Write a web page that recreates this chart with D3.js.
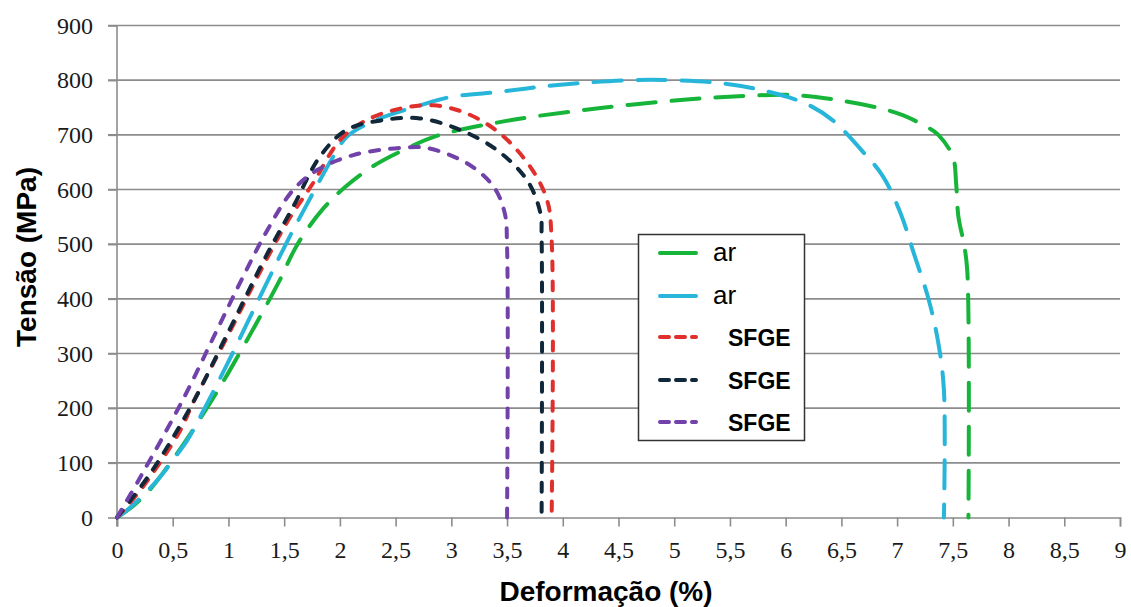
<!DOCTYPE html>
<html>
<head>
<meta charset="utf-8">
<script src="https://cdn.jsdelivr.net/npm/d3@7"></script>
<style>
  body { margin: 0; background: #fff; }
  svg { display: block; }
  .tick text { font-family: "Liberation Serif", "Times New Roman", serif; font-size: 24px; fill: #1a1a1a; }
</style>
</head>
<body>
<div id="chart"></div>
<script>
// strain (%) and stress (MPa)
const greenX = [0, 0.15, 0.3, 0.45, 0.6, 0.8, 1.0, 1.25, 1.45, 1.62, 1.85, 2.05, 2.3, 2.6, 2.9, 3.54, 4.34, 5.14, 5.62, 6.04, 6.42, 6.84, 7.05, 7.27, 7.37, 7.5, 7.53, 7.55, 7.6, 7.63, 7.64];
const greenY = [0, 22, 52, 92, 135, 198, 265, 355, 430, 500, 565, 605, 643, 675, 700, 727, 749, 765, 771, 773, 765, 749, 736, 714, 700, 660, 610, 550, 500, 450, 0];

const cyanX = [0, 0.1, 0.28, 0.41, 0.5, 0.63, 0.8, 1.0, 1.25, 1.52, 1.71, 1.94, 2.06, 2.3, 2.72, 2.99, 3.45, 3.8, 4.18, 4.6, 4.98, 5.4, 5.78, 6.17, 6.42, 6.68, 6.87, 7.03, 7.15, 7.28, 7.37, 7.42, 7.42];
const cyanY = [0, 15, 50, 80, 105, 141, 205, 285, 390, 502, 575, 660, 696, 725, 754, 769, 779, 788, 795, 800, 800, 795, 782, 758, 727, 672, 625, 557, 483, 401, 319, 233, 0];

const redX = [0, 0.15, 0.3, 0.57, 0.68, 1.0, 1.26, 1.52, 1.76, 2.0, 2.24, 2.54, 2.84, 3.14, 3.44, 3.71, 3.86, 3.9, 3.9];
const redY = [0, 35, 75, 160, 209, 335, 440, 538, 612, 690, 727, 748, 754, 739, 702, 641, 580, 508, 0];

const navyX = [0, 0.3, 0.66, 1.0, 1.35, 1.58, 1.82, 2.06, 2.39, 2.72, 3.08, 3.41, 3.68, 3.8, 3.81, 3.81];
const navyY = [0, 81, 202, 340, 483, 568, 660, 709, 727, 730, 709, 672, 617, 556, 513, 0];

const purpleX = [0, 0.21, 0.59, 0.9, 1.13, 1.35, 1.58, 1.8, 2.12, 2.54, 2.78, 3.14, 3.38, 3.48, 3.5, 3.5];
const purpleY = [0, 74, 215, 344, 440, 526, 599, 636, 663, 676, 676, 648, 605, 556, 495, 0];

const seriesNames = ['ar', 'ar', 'SFGE', 'SFGE', 'SFGE'];
const xTicks = d3.range(0, 9.01, 0.5);
const yTicks = d3.range(0, 901, 100);

const series = [
    { name: seriesNames[0], xs: greenX, ys: greenY, color: '#17b43a', dash: '28,16', long: true },
    { name: seriesNames[1], xs: cyanX, ys: cyanY, color: '#27b5da', dash: '28,16', long: true },
    { name: seriesNames[2], xs: redX, ys: redY, color: '#e0302e', dash: '9,11' },
    { name: seriesNames[3], xs: navyX, ys: navyY, color: '#10283a', dash: '9,11' },
    { name: seriesNames[4], xs: purpleX, ys: purpleY, color: '#7142aa', dash: '9,11' }
];

const width = 1131, height = 607;
const margin = { top: 25.5, right: 11, bottom: 89.5, left: 117 };

const svg = d3.select('#chart').append('svg')
    .attr('width', width)
    .attr('height', height);

const x = d3.scaleLinear().domain([0, 9]).range([margin.left, width - margin.right]);
const y = d3.scaleLinear().domain([0, 900]).range([height - margin.bottom, margin.top]);

const fmt = (d) => String(d).replace('.', ',');
const gridColor = '#8c8c8c';

// horizontal gridlines
svg.append('g')
    .selectAll('line')
    .data(yTicks.filter((d) => d > 0))
    .join('line')
    .attr('x1', x(0) - 9)
    .attr('x2', x(9))
    .attr('y1', (d) => y(d))
    .attr('y2', (d) => y(d))
    .attr('stroke', gridColor)
    .attr('stroke-width', 1.6);

// y axis
const yAxis = svg.append('g')
    .attr('transform', `translate(${x(0)},0)`)
    .call(d3.axisLeft(y).tickValues(yTicks).tickSize(9).tickPadding(15).tickFormat(fmt));
yAxis.select('.domain').remove();
yAxis.selectAll('.tick line').attr('stroke', gridColor).attr('stroke-width', 1.6);
svg.append('line')
    .attr('x1', x(0)).attr('x2', x(0))
    .attr('y1', y(900)).attr('y2', y(0) + 9)
    .attr('stroke', gridColor).attr('stroke-width', 1.6);

// x axis
const xAxis = svg.append('g')
    .attr('transform', `translate(0,${y(0)})`)
    .call(d3.axisBottom(x).tickValues(xTicks).tickSize(9).tickPadding(14).tickFormat(fmt));
xAxis.select('.domain').attr('stroke', gridColor).attr('stroke-width', 1.6);
xAxis.selectAll('.tick line').attr('stroke', gridColor).attr('stroke-width', 1.6);

// curves
const line = d3.line()
    .x((d) => x(d[0]))
    .y((d) => y(d[1]))
    .curve(d3.curveCatmullRom.alpha(0.5));

series.forEach((s) => {
    svg.append('path')
        .datum(s.xs.map((v, i) => [v, s.ys[i]]))
        .attr('fill', 'none')
        .attr('stroke', s.color)
        .attr('stroke-width', 4)
        .attr('stroke-linecap', 'round')
        .attr('stroke-dasharray', s.dash)
        .attr('d', line);
});

// axis titles
svg.append('text')
    .attr('transform', 'translate(36,257) rotate(-90)')
    .attr('text-anchor', 'middle')
    .style('font-family', '"Liberation Sans", Arial, sans-serif')
    .style('font-size', '28px')
    .style('font-weight', 'bold')
    .text('Tensão (MPa)');

svg.append('text')
    .attr('x', 606)
    .attr('y', 601)
    .attr('text-anchor', 'middle')
    .style('font-family', '"Liberation Sans", Arial, sans-serif')
    .style('font-size', '28px')
    .style('font-weight', 'bold')
    .text('Deformação (%)');

// legend
const legend = svg.append('g');
legend.append('rect')
    .attr('x', 638.5).attr('y', 234.5)
    .attr('width', 166).attr('height', 206)
    .attr('fill', '#fff')
    .attr('stroke', '#333')
    .attr('stroke-width', 1.5);

const legendY = [253, 296, 337, 380, 422];
series.forEach((s, i) => {
    legend.append('line')
        .attr('x1', 660).attr('x2', 696)
        .attr('y1', legendY[i]).attr('y2', legendY[i])
        .attr('stroke', s.color)
        .attr('stroke-width', 4)
        .attr('stroke-linecap', 'round')
        .attr('stroke-dasharray', s.long ? null : '9,7');
    legend.append('text')
        .attr('x', s.long ? 713 : 728)
        .attr('y', legendY[i] + (s.long ? 8 : 9))
        .style('font-family', '"Liberation Sans", Arial, sans-serif')
        .style('font-size', s.long ? '26px' : '23px')
        .style('font-weight', s.long ? 'normal' : 'bold')
        .text(s.name);
});
</script>
</body>
</html>
